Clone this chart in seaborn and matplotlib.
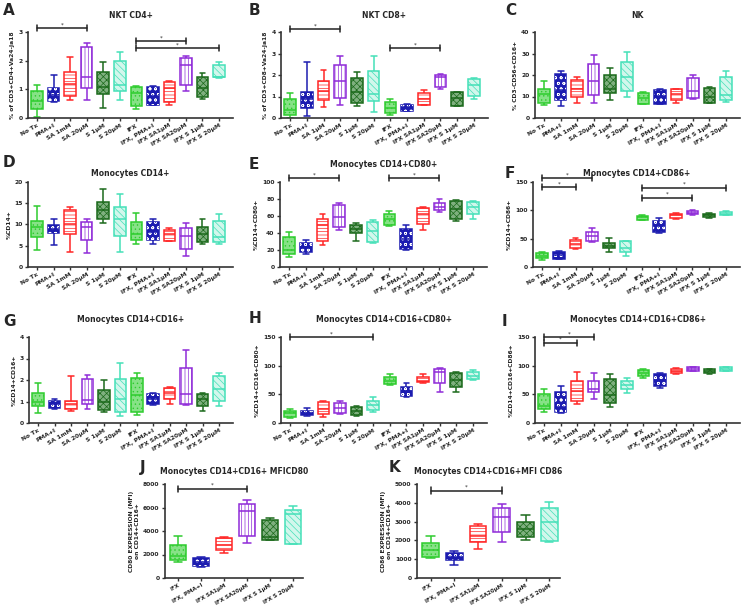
import numpy as np
import pandas as pd
import matplotlib
matplotlib.use("Agg")
import matplotlib.pyplot as plt
from matplotlib.patches import PathPatch
import seaborn as sns

# Treatment groups
conds = ["No Tx", "PMA+I", "SA 1mM", "SA 20µM", "S 1µM", "S 20µM",
         "IFX", "IFX, PMA+I", "IFX SA1µM", "IFX SA20µM", "IFX S 1µM", "IFX S 20µM"]
conds_b = ["No Tx", "PMA+I", "SA 1µM", "SA 20µM", "S 1µM", "S 20µM",
           "IFX", "IFX, PMA+I", "IFX SA1µM", "IFX SA20µM", "IFX S 1µM", "IFX S 20µM"]
ifx_conds = conds[6:]

# Five-number summaries: [min, q1, median, q3, max]
nkt_cd4 = [[0.02, 0.30, 0.59, 0.94, 1.15], [0.55, 0.58, 0.80, 1.03, 1.51],
           [0.62, 0.77, 1.18, 1.62, 2.12], [0.64, 1.03, 1.42, 2.46, 2.62],
           [0.36, 0.82, 1.07, 1.62, 1.97], [0.64, 0.93, 1.15, 2.00, 2.29],
           [0.33, 0.43, 0.86, 1.07, 1.10], [0.45, 0.47, 0.78, 1.08, 1.11],
           [0.47, 0.56, 1.03, 1.27, 1.29], [0.93, 1.15, 1.85, 2.09, 2.17],
           [0.66, 0.74, 1.06, 1.44, 1.56], [1.41, 1.42, 1.44, 1.84, 1.97]]
nkt_cd8 = [[0.00, 0.16, 0.37, 0.87, 1.15], [0.09, 0.47, 0.90, 1.21, 2.60],
           [0.53, 0.82, 1.26, 1.72, 2.23], [0.60, 0.91, 1.72, 2.45, 2.88],
           [0.56, 0.68, 1.22, 1.85, 2.15], [0.28, 0.79, 1.10, 2.20, 2.90],
           [0.14, 0.25, 0.48, 0.76, 0.87], [0.31, 0.34, 0.50, 0.62, 0.67],
           [0.59, 0.62, 0.90, 1.18, 1.30], [1.33, 1.44, 1.92, 2.00, 2.03],
           [0.55, 0.58, 0.93, 1.20, 1.22], [0.90, 1.02, 1.52, 1.80, 1.85]]
nk = [[5.9, 7.1, 11.0, 13.6, 17.2], [5.6, 8.4, 13.0, 20.3, 21.9],
      [7.1, 9.9, 13.6, 17.5, 19.2], [6.8, 10.5, 17.4, 25.0, 29.3],
      [8.2, 11.5, 13.3, 19.8, 23.1], [9.8, 12.6, 19.2, 26.2, 30.8],
      [6.6, 6.7, 9.5, 11.7, 11.9], [6.4, 6.7, 10.2, 13.0, 13.3],
      [7.1, 8.2, 11.0, 13.3, 13.6], [9.0, 9.2, 12.6, 18.4, 19.8],
      [6.8, 7.1, 9.9, 14.1, 14.4], [7.4, 8.2, 10.7, 19.2, 22.0]]
mono_cd14 = [[4.06, 6.95, 9.3, 10.9, 14.4], [5.2, 8.0, 8.9, 9.8, 11.3],
             [3.5, 7.7, 10.2, 13.3, 14.2], [3.3, 6.4, 9.4, 10.5, 11.25],
             [10.4, 11.3, 13.3, 15.2, 18.4], [3.5, 7.2, 11.2, 14.2, 17.1],
             [5.4, 6.4, 7.7, 10.5, 12.8], [5.4, 6.4, 8.3, 10.5, 11.2],
             [6.0, 6.2, 7.7, 8.6, 9.1], [2.5, 4.2, 7.4, 9.1, 10.4],
             [5.4, 5.8, 7.7, 9.5, 11.2], [5.5, 5.8, 7.0, 10.9, 12.5]]
mono_cd80 = [[12.2, 14.8, 20.5, 35.7, 40.7], [14.8, 17.9, 22.8, 28.5, 32.0],
             [25.5, 30.4, 49.4, 57.0, 62.4], [43.3, 47.5, 58.6, 73.0, 75.0],
             [30.0, 40.0, 44.5, 49.4, 52.0], [28.1, 29.3, 41.8, 52.8, 54.8],
             [48.3, 49.4, 56.7, 62.4, 65.4], [20.5, 21.0, 33.0, 45.2, 49.0],
             [43.3, 51.0, 62.0, 69.0, 70.5], [64.3, 66.5, 71.0, 75.0, 80.0],
             [54.0, 57.0, 68.4, 78.0, 79.0], [57.0, 62.4, 71.0, 76.0, 78.0]]
mono_cd86 = [[12.8, 15.7, 19.8, 24.4, 26.0], [14.0, 14.5, 20.3, 26.0, 29.0],
             [31.4, 34.3, 40.1, 47.7, 51.7], [44.8, 46.5, 55.2, 62.2, 69.2],
             [25.6, 33.1, 37.8, 43.0, 50.6], [19.8, 25.6, 33.0, 46.0, 46.5],
             [82.6, 83.7, 88.4, 90.7, 91.3], [59.3, 62.2, 72.0, 81.4, 86.6],
             [84.3, 86.6, 91.0, 94.0, 95.3], [91.3, 93.0, 96.0, 98.8, 101.0],
             [87.2, 88.4, 91.3, 94.0, 95.0], [91.3, 92.4, 94.2, 97.0, 98.3]]
mono_cd16 = [[0.48, 0.80, 0.99, 1.38, 1.88], [0.66, 0.68, 0.90, 1.04, 1.12],
             [0.56, 0.64, 0.87, 1.04, 2.20], [0.65, 0.88, 1.07, 2.05, 2.23],
             [0.50, 0.60, 0.96, 1.53, 2.00], [0.34, 0.50, 1.13, 2.03, 2.79],
             [0.37, 0.53, 1.30, 2.08, 2.31], [0.84, 0.87, 1.12, 1.35, 1.41],
             [0.88, 1.12, 1.40, 1.61, 1.69], [0.85, 0.87, 1.33, 2.54, 3.38],
             [0.57, 0.80, 1.12, 1.35, 1.38], [0.80, 1.04, 1.60, 2.19, 2.34]]
mono_cd16_80 = [[9.3, 11.0, 16.9, 21.5, 23.9], [12.8, 13.2, 18.0, 21.0, 25.6],
                [11.0, 15.2, 24.0, 37.2, 38.4], [15.7, 18.0, 25.6, 34.3, 38.4],
                [12.2, 14.0, 21.0, 27.3, 29.7], [19.8, 22.7, 31.4, 38.4, 44.8],
                [67.0, 68.1, 73.9, 79.8, 85.0], [45.9, 47.7, 55.0, 62.3, 69.3],
                [69.3, 71.0, 74.0, 79.8, 85.0], [54.7, 69.3, 89.5, 93.5, 96.5],
                [54.7, 63.3, 75.0, 86.7, 89.5], [75.0, 76.1, 82.0, 89.5, 92.5]]
mono_cd16_86 = [[19.8, 23.9, 29.0, 50.0, 58.6], [16.9, 19.8, 28.5, 54.7, 64.6],
                [33.2, 38.4, 56.4, 73.9, 88.4], [41.4, 53.6, 58.8, 73.9, 86.7],
                [28.5, 35.4, 48.9, 76.8, 85.5], [51.8, 58.8, 66.3, 73.9, 78.5],
                [79.1, 82.0, 87.8, 92.5, 93.6], [60.6, 64.6, 75.0, 85.5, 87.8],
                [85.5, 86.7, 91.3, 94.2, 95.5], [90.0, 91.3, 94.2, 97.2, 98.3],
                [85.5, 86.7, 91.0, 93.6, 94.5], [90.5, 91.3, 94.2, 97.2, 98.3]]
mfi_cd80 = [[1333, 1560, 1844, 2837, 3546], [936, 1050, 1333, 1702, 1759],
            [2128, 2355, 2837, 3404, 3489], [2979, 3603, 5730, 6326, 6667],
            [3206, 3220, 3489, 4965, 5106], [2865, 2922, 5447, 5816, 6099]]
mfi_cd86 = [[1071, 1125, 1482, 1875, 2232], [714, 982, 1125, 1339, 1429],
            [1554, 1911, 2232, 2768, 2893], [1911, 2446, 3268, 3714, 3929],
            [2018, 2196, 2589, 3000, 3339], [1929, 1964, 3000, 3750, 4018]]

# significance brackets: (from group, to group, height)
br_a = [(0, 3, 3.14), (6, 9, 2.68), (6, 11, 2.44)]
br_b = [(0, 3, 4.14), (6, 9, 3.26)]
br_e = [(0, 3, 104.7), (6, 9, 104.7)]
br_f = [(0, 3, 157), (0, 2, 141), (6, 11, 140), (6, 9, 122)]
br_h = [(0, 5, 150)]
br_i = [(0, 3, 150), (0, 2, 140)]
br_j = [(0, 3, 7580)]
br_k = [(0, 3, 4640)]

# GraphPad-like colours and fills for the six treatment types
line_cols = ["#2ecc2e", "#1c1cb0", "#ff2626", "#8f2bd8", "#1b6a1b", "#45e0b8"]
face_cols = ["#86e286", "#1c1cb0", "white", "white", "#7fb07f", "#d2f7ec"]
hatches = ["....", None, "-----", "|||||", "xxxxx", "\\\\\\\\\\"]

W, H = 742, 606
sns.set_style("ticks")
plt.rcParams["font.family"] = ["DejaVu Sans"]
plt.rcParams["hatch.linewidth"] = 0.5
fig = plt.figure(figsize=(W / 100, H / 100), dpi=100)

# letter, title, ylabel, labels, data, yticks, brackets, (left, top, right, bottom) px, title y px, letter xy px
panels = [
    ("A", "NKT CD4+", "% of CD3+CD4+Va24-Ja18", conds, nkt_cd4, [0, 1, 2, 3], br_a, (28, 32, 233, 118), 18, (3, 15)),
    ("B", "NKT CD8+", "% of CD3+CD8+Va24-Ja18", conds_b, nkt_cd8, [0, 1, 2, 3, 4], br_b, (281, 32, 488, 118), 18, (249, 15)),
    ("C", "NK", "% CD3-CD56+CD16+", conds, nk, [0, 10, 20, 30, 40], [], (535, 32, 740, 118), 18, (505, 15)),
    ("D", "Monocytes CD14+", "%CD14+", conds, mono_cd14, [0, 5, 10, 15, 20], [], (28, 182, 233, 267), 176, (3, 167)),
    ("E", "Monocytes CD14+CD80+", "%CD14+CD80+", conds, mono_cd80, [0, 20, 40, 60, 80, 100], br_e, (280, 182, 487, 267), 167, (249, 169)),
    ("F", "Monocytes CD14+CD86+", "%CD14+CD86+", conds, mono_cd86, [0, 50, 100, 150], br_f, (533, 182, 740, 267), 176, (505, 178)),
    ("G", "Monocytes CD14+CD16+", "%CD14+CD16+", conds, mono_cd16, [0, 1, 2, 3, 4], [], (29, 337, 233, 423), 322, (3, 326)),
    ("H", "Monocytes CD14+CD16+CD80+", "%CD14+CD16+CD80+", conds, mono_cd16_80, [0, 50, 100, 150], br_h, (281, 337, 487, 423), 322, (249, 323)),
    ("I", "Monocytes CD14+CD16+CD86+", "%CD14+CD16+CD86+", conds, mono_cd16_86, [0, 50, 100, 150], br_i, (535, 337, 740, 423), 322, (502, 326)),
    ("J", "Monocytes CD14+CD16+ MFICD80", "CD80 EXPRESSION (MFI)\non CD14+CD16+", ifx_conds, mfi_cd80,
     [0, 2000, 4000, 6000, 8000], br_j, (165, 484, 303, 578), 474, (140, 472)),
    ("K", "Monocytes CD14+CD16+MFI CD86", "CD86 EXPRESSION (MFI)\non CD14+CD16+", ifx_conds, mfi_cd86,
     [0, 1000, 2000, 3000, 4000, 5000], br_k, (417, 484, 560, 578), 474, (389, 472)),
]

for letter, title, ylab, labels, vals, yticks, brackets, box, title_y, let_xy in panels:
    x0, y0, x1, y1 = box
    ax = fig.add_axes([x0 / W, 1 - y1 / H, (x1 - x0) / W, (y1 - y0) / H])
    n = len(labels)
    df = pd.DataFrame({"cond": np.repeat(labels, 5), "val": np.concatenate(vals)})
    pal = line_cols * (n // 6)
    sns.boxplot(data=df, x="cond", y="val", hue="cond", order=labels, hue_order=labels,
                palette=pal, whis=(0, 100), width=0.7, linewidth=1.1, legend=False, ax=ax)

    # recolour boxes in GraphPad style
    for p in list(ax.patches):
        k = int(round(p.get_path().vertices[:, 0].mean())) % 6
        p.set_facecolor(face_cols[k])
        p.set_edgecolor(line_cols[k])
        p.set_linewidth(1.1)
        if hatches[k]:
            p.set_hatch(hatches[k])
        else:
            dots = PathPatch(p.get_path(), transform=p.get_transform(), facecolor="none",
                             edgecolor="white", hatch="ooo", lw=0, zorder=p.get_zorder() + 0.01)
            ax.add_patch(dots)
    for ln in ax.lines:
        xd = np.asarray(ln.get_xdata(), dtype=float)
        if len(xd) == 0:
            continue
        k = int(round(xd.mean())) % 6
        ln.set_color(line_cols[k])
        ln.set_linewidth(1.1)

    # brackets with stars
    ymax = yticks[-1]
    for i, j, yb in brackets:
        d = 0.035 * ymax
        ax.plot([i, j], [yb, yb], color="#222222", lw=1.1, clip_on=False)
        ax.plot([i, i], [yb - d, yb + d], color="#222222", lw=1.1, clip_on=False)
        ax.plot([j, j], [yb - d, yb + d], color="#222222", lw=1.1, clip_on=False)
        ax.text((i + j) / 2, yb + 0.01 * ymax, "*", ha="center", va="bottom", fontsize=4, clip_on=False)

    ax.set_ylim(0, ymax)
    ax.set_yticks(yticks)
    if n == 6:
        ax.set_xlim(-0.57, 5.45)
    else:
        ax.set_xlim(-0.55, 11.85)
    ax.set_xlabel("")
    ax.set_ylabel(ylab, fontsize=4.3, fontweight="bold", labelpad=2)
    ax.set_xticks(range(n))
    xfs = 4.0 if n == 6 else 4.3
    ax.set_xticklabels(labels, rotation=30, ha="right", rotation_mode="anchor",
                       fontsize=xfs, fontweight="bold")
    for t in ax.get_yticklabels():
        t.set_fontsize(4.3)
        t.set_fontweight("bold")
    ax.tick_params(axis="both", length=2.5, width=1, pad=1.5, color="#333333")
    ax.tick_params(axis="x", pad=1)
    sns.despine(ax=ax)
    for s in ["left", "bottom"]:
        ax.spines[s].set_linewidth(1.2)
        ax.spines[s].set_color("#333333")

    cx = (x0 + x1) / 2
    fig.text(cx / W, 1 - title_y / H, title, ha="center", va="baseline", fontsize=5.5, fontweight="bold")
    fig.text(let_xy[0] / W, 1 - let_xy[1] / H, letter, ha="left", va="baseline", fontsize=11, fontweight="bold")

fig.savefig("out.png", dpi=100)
